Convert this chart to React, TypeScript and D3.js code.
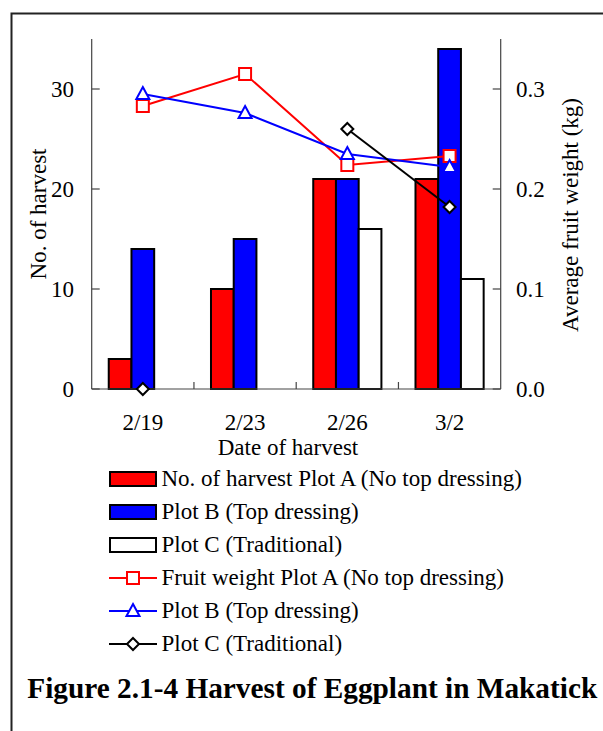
import React from "react";
import * as d3 from "d3";

// Harvest dates
const dates = ["2/19", "2/23", "2/26", "3/2"];

// Number of fruits harvested per plot
const countA = [3, 10, 21, 21];
const countB = [14, 15, 21, 34];
const countC = [0, 0, 16, 11];

// Average fruit weight (kg) per plot; null = no harvest recorded
const weightA: (number | null)[] = [0.283, 0.315, 0.224, 0.233];
const weightB: (number | null)[] = [0.295, 0.276, 0.235, 0.222];
const weightC: (number | null)[] = [0, null, 0.26, 0.182];

const leftTicks = [0, 10, 20, 30];
const rightTicks = [0, 0.1, 0.2, 0.3];

const W = 603;
const H = 731;
const FONT = "'Liberation Serif', 'Times New Roman', serif";
const FS = 23;

const plotLeft = 91.7;
const plotRight = 500.7;
const plotTop = 39;
const plotBottom = 389;

const x = d3.scaleBand<string>().domain(dates).range([plotLeft, plotRight]).padding(0);
const sub = d3
  .scaleBand<string>()
  .domain(["A", "B", "C"])
  .range([0, x.bandwidth()])
  .paddingInner(0)
  .paddingOuter(0.75);
const yL = d3.scaleLinear().domain([0, 35]).range([plotBottom, plotTop]);
const yR = d3.scaleLinear().domain([0, 0.35]).range([plotBottom, plotTop]);

const barSeries = [
  { key: "A", values: countA, fill: "#ff0000" },
  { key: "B", values: countB, fill: "#0000ff" },
  { key: "C", values: countC, fill: "#ffffff" },
];

type Marker = "square" | "triangle" | "diamond";
const lineSeries: { values: (number | null)[]; color: string; marker: Marker }[] = [
  { values: weightA, color: "#ff0000", marker: "square" },
  { values: weightB, color: "#0000ff", marker: "triangle" },
  { values: weightC, color: "#000000", marker: "diamond" },
];

const legendItems: { label: string; kind: "bar" | "line"; color: string; marker?: Marker }[] = [
  { label: "No. of harvest Plot A (No top dressing)", kind: "bar", color: "#ff0000" },
  { label: "Plot B (Top dressing)", kind: "bar", color: "#0000ff" },
  { label: "Plot C (Traditional)", kind: "bar", color: "#ffffff" },
  { label: "Fruit weight Plot A (No top dressing)", kind: "line", color: "#ff0000", marker: "square" },
  { label: "Plot B (Top dressing)", kind: "line", color: "#0000ff", marker: "triangle" },
  { label: "Plot C (Traditional)", kind: "line", color: "#000000", marker: "diamond" },
];

function MarkerShape({ cx, cy, type, color }: { cx: number; cy: number; type: Marker; color: string }) {
  if (type === "square") {
    return <rect x={cx - 6} y={cy - 6} width={12} height={12} fill="#fff" stroke={color} strokeWidth={2} />;
  }
  if (type === "triangle") {
    const p = `${cx},${cy - 7} ${cx + 6.5},${cy + 5} ${cx - 6.5},${cy + 5}`;
    return <polygon points={p} fill="#fff" stroke={color} strokeWidth={2} />;
  }
  const p = `${cx},${cy - 6} ${cx + 6},${cy} ${cx},${cy + 6} ${cx - 6},${cy}`;
  return <polygon points={p} fill="#fff" stroke={color} strokeWidth={2} />;
}

export default function App() {
  const center = (d: string) => (x(d) as number) + x.bandwidth() / 2;
  const axisColor = "#444";

  return (
    <svg
      width={W}
      height={H}
      style={{ position: "absolute", left: 0, top: 0, background: "#fff" }}
      fontFamily={FONT}
    >
      {/* frame */}
      <path d={`M${W} 13.5 H11.5 V${H}`} fill="none" stroke="#222" strokeWidth={2} />

      {/* bars */}
      {barSeries.map((s) =>
        dates.map((d, i) =>
          s.values[i] > 0 ? (
            <rect
              key={s.key + d}
              x={(x(d) as number) + (sub(s.key) as number)}
              y={yL(s.values[i])}
              width={sub.bandwidth()}
              height={yL(0) - yL(s.values[i])}
              fill={s.fill}
              stroke="#000"
              strokeWidth={2}
            />
          ) : null
        )
      )}

      {/* axes */}
      <line x1={plotLeft} x2={plotLeft} y1={plotTop} y2={plotBottom} stroke={axisColor} strokeWidth={1.2} />
      <line x1={plotRight} x2={plotRight} y1={plotTop} y2={plotBottom} stroke={axisColor} strokeWidth={1.2} />
      <line x1={plotLeft} x2={plotRight} y1={plotBottom} y2={plotBottom} stroke={axisColor} strokeWidth={1.2} />
      {leftTicks.map((t) => (
        <g key={"l" + t}>
          <line x1={plotLeft} x2={plotLeft + 8} y1={yL(t)} y2={yL(t)} stroke={axisColor} strokeWidth={1.2} />
          <text x={74} y={yL(t)} dy="0.35em" textAnchor="end" fontSize={FS}>
            {t}
          </text>
        </g>
      ))}
      {rightTicks.map((t) => (
        <g key={"r" + t}>
          <line x1={plotRight - 8} x2={plotRight} y1={yR(t)} y2={yR(t)} stroke={axisColor} strokeWidth={1.2} />
          <text x={516} y={yR(t)} dy="0.35em" textAnchor="start" fontSize={FS}>
            {d3.format(".1f")(t)}
          </text>
        </g>
      ))}
      {dates.slice(1).map((d) => (
        <line key={"xt" + d} x1={x(d)} x2={x(d)} y1={plotBottom} y2={plotBottom - 7} stroke={axisColor} strokeWidth={1.2} />
      ))}
      {dates.map((d) => (
        <text key={"xl" + d} x={center(d)} y={430} textAnchor="middle" fontSize={FS}>
          {d}
        </text>
      ))}
      <text x={288} y={455} textAnchor="middle" fontSize={FS}>
        Date of harvest
      </text>
      <text transform="translate(46,214) rotate(-90)" textAnchor="middle" fontSize={FS}>
        No. of harvest
      </text>
      <text transform="translate(578,215) rotate(-90)" textAnchor="middle" fontSize={FS}>
        Average fruit weight (kg)
      </text>

      {/* fruit weight lines */}
      {lineSeries.map((s, k) => {
        const path = d3
          .line<number | null>()
          .defined((v) => v !== null)
          .x((_, i) => center(dates[i]))
          .y((v) => yR(v as number))(s.values);
        return <path key={"ln" + k} d={path || ""} fill="none" stroke={s.color} strokeWidth={2} />;
      })}
      {lineSeries.map((s, k) =>
        s.values.map((v, i) =>
          v === null ? null : (
            <MarkerShape key={"m" + k + i} cx={center(dates[i])} cy={yR(v)} type={s.marker} color={s.color} />
          )
        )
      )}

      {/* legend */}
      {legendItems.map((it, i) => {
        const base = 486 + i * 33;
        const cy = base - 7;
        return (
          <g key={"lg" + i}>
            {it.kind === "bar" ? (
              <rect x={110} y={cy - 7} width={46} height={14} fill={it.color} stroke="#000" strokeWidth={2} />
            ) : (
              <g>
                <line x1={109} x2={157} y1={cy} y2={cy} stroke={it.color} strokeWidth={2} />
                <MarkerShape cx={133} cy={cy} type={it.marker as Marker} color={it.color} />
              </g>
            )}
            <text x={161.5} y={base} fontSize={FS}>
              {it.label}
            </text>
          </g>
        );
      })}

      {/* caption */}
      <text x={27.3} y={697.7} fontSize={29.3} fontWeight="bold">
        Figure 2.1-4 Harvest of Eggplant in Makatick
      </text>
    </svg>
  );
}
